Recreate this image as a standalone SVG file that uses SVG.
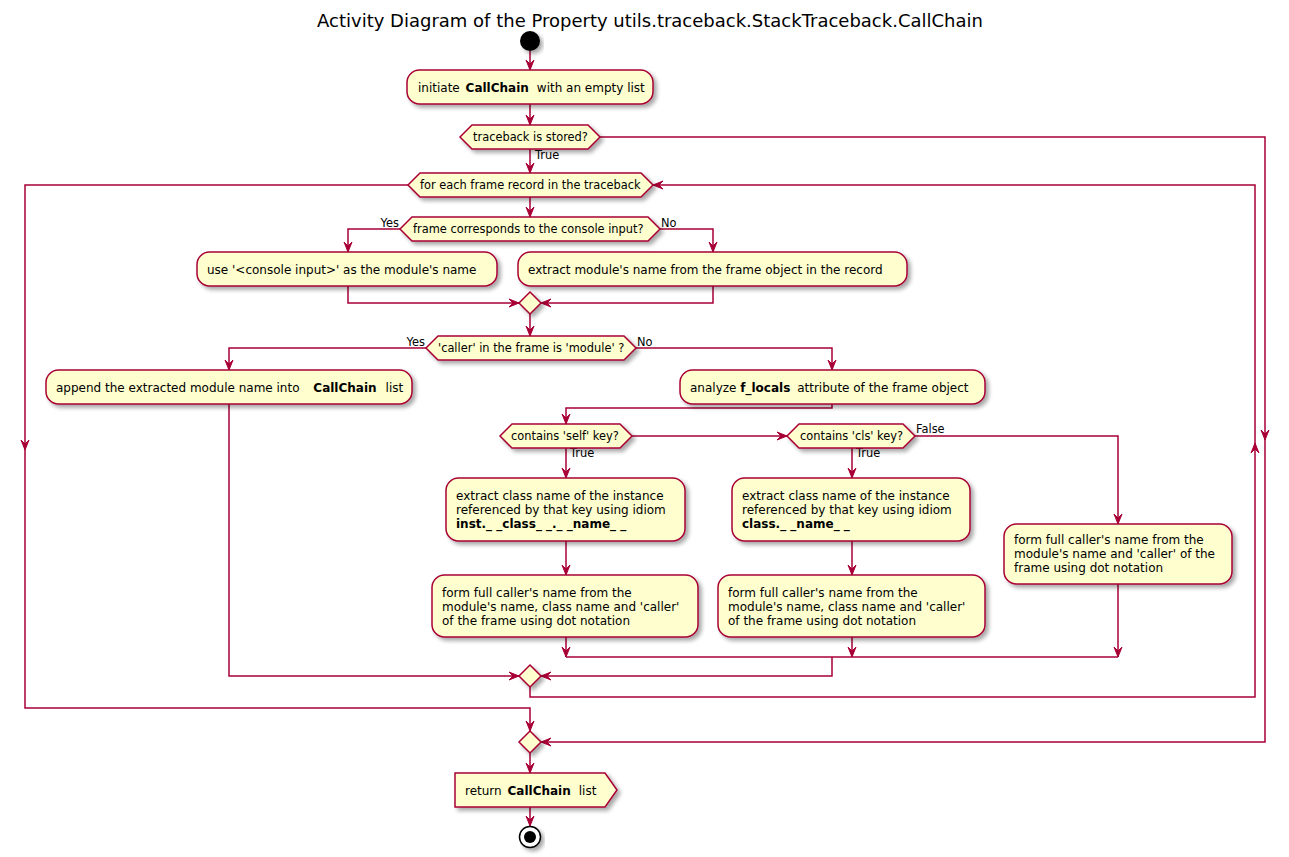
<svg xmlns="http://www.w3.org/2000/svg" width="1289" height="857" viewBox="0 0 1289 857">
<defs>
<filter id="sh" x="-10%" y="-20%" width="130%" height="160%">
<feGaussianBlur in="SourceAlpha" stdDeviation="2"/>
<feOffset dx="3" dy="3" result="b"/>
<feComponentTransfer><feFuncA type="linear" slope="0.35"/></feComponentTransfer>
<feMerge><feMergeNode/><feMergeNode in="SourceGraphic"/></feMerge>
</filter>
<marker id="ah" markerUnits="userSpaceOnUse" markerWidth="12" markerHeight="10" refX="10" refY="4" orient="auto" overflow="visible">
<path d="M0,0 L10,4 L0,8 L4,4 Z" fill="#A80036" stroke="#A80036" stroke-width="1"/>
</marker>
</defs>
<style>
.box{fill:#FEFECE;stroke:#A80036;stroke-width:1.5;filter:url(#sh)}
.t{font-family:"DejaVu Sans",sans-serif;font-size:12px;fill:#000}
.s{font-family:"DejaVu Sans",sans-serif;font-size:11.4px;fill:#000}
.b{font-weight:bold}
.c{fill:none;stroke:#A80036;stroke-width:1.5}
.a{marker-end:url(#ah)}
</style>
<rect width="1289" height="857" fill="#FFFFFF"/>
<text x="650" y="27" text-anchor="middle" font-family="DejaVu Sans, sans-serif" font-size="18">Activity Diagram of the Property utils.traceback.StackTraceback.CallChain</text>

<g id="connectors">
<path class="c a" d="M530,51 L530,70"/>
<path class="c a" d="M530,104 L530,125"/>
<path class="c a" d="M600,137 L1265,137 L1265,440"/>
<path class="c a" d="M1265,440 L1265,742 L541,742"/>
<path class="c a" d="M530,149 L530,173"/>
<path class="c a" d="M408,185 L25,185 L25,450"/>
<path class="c a" d="M25,450 L25,708 L530,708 L530,731"/>
<path class="c a" d="M530,197 L530,217"/>
<path class="c a" d="M400,229 L348,229 L348,252"/>
<path class="c a" d="M660,229 L713,229 L713,252"/>
<path class="c a" d="M348,286 L348,303 L519,303"/>
<path class="c a" d="M713,286 L713,303 L541,303"/>
<path class="c a" d="M530,314 L530,336"/>
<path class="c a" d="M426,348 L229,348 L229,370"/>
<path class="c a" d="M636,348 L832,348 L832,370"/>
<path class="c a" d="M832,404 L832,408 L566,408 L566,424"/>
<path class="c a" d="M632,436 L787,436"/>
<path class="c a" d="M566,447 L566,478"/>
<path class="c a" d="M566,541 L566,575"/>
<path class="c a" d="M566,637 L566,657"/>
<path class="c a" d="M852,447 L852,478"/>
<path class="c a" d="M852,541 L852,575"/>
<path class="c a" d="M852,637 L852,657"/>
<path class="c a" d="M915,436 L1118,436 L1118,524"/>
<path class="c a" d="M1118,584 L1118,657"/>
<path class="c" d="M566,657 L1118,657"/>
<path class="c a" d="M832,657 L832,676 L541,676"/>
<path class="c a" d="M229,404 L229,676 L519,676"/>
<path class="c a" d="M530,687 L530,697 L1255,697 L1255,443"/>
<path class="c a" d="M1255,443 L1255,185 L653,185"/>
<path class="c a" d="M530,753 L530,773"/>
<path class="c a" d="M530,807 L530,826"/>
<text class="s" x="535" y="159">True</text>
<text class="s" x="399" y="227" text-anchor="end">Yes</text>
<text class="s" x="661" y="227">No</text>
<text class="s" x="425" y="346" text-anchor="end">Yes</text>
<text class="s" x="637" y="346">No</text>
<text class="s" x="570" y="457">True</text>
<text class="s" x="856" y="457">True</text>
<text class="s" x="916" y="433">False</text>
</g>

<g id="start"><circle cx="530" cy="41" r="10" fill="#000" filter="url(#sh)"/></g>

<g id="init">
<rect class="box" x="407" y="70" width="246" height="34" rx="12.5"/>
<text class="t" x="418" y="92">initiate <tspan class="b" dx="2">CallChain</tspan><tspan dx="8">with an empty list</tspan></text>
</g>

<g id="d_stored">
<polygon class="box" points="472,125 588,125 600,137 588,149 472,149 460,137"/>
<text class="s" x="473" y="141">traceback is stored?</text>
</g>

<g id="loop">
<polygon class="box" points="420,173 641,173 653,185 641,197 420,197 408,185"/>
<text class="s" x="420" y="189">for each frame record in the traceback</text>
</g>

<g id="d_console">
<polygon class="box" points="412,217 648,217 660,229 648,241 412,241 400,229"/>
<text class="s" x="413" y="233">frame corresponds to the console input?</text>
</g>

<g id="console_name">
<rect class="box" x="197" y="252" width="300" height="34" rx="12.5"/>
<text class="t" x="207" y="274">use '&lt;console input&gt;' as the module's name</text>
</g>

<g id="extract_module">
<rect class="box" x="518" y="252" width="389" height="34" rx="12.5"/>
<text class="t" x="528" y="274">extract module's name from the frame object in the record</text>
</g>

<g id="merge1"><polygon class="box" points="530,292 541,303 530,314 519,303"/></g>

<g id="d_module">
<polygon class="box" points="438,336 624,336 636,348 624,360 438,360 426,348"/>
<text class="s" x="438" y="352">'caller' in the frame is 'module' ?</text>
</g>

<g id="append">
<rect class="box" x="46" y="370" width="366" height="34" rx="12.5"/>
<text class="t" x="56" y="392">append the extracted module name into <tspan class="b" dx="10">CallChain</tspan><tspan dx="9">list</tspan></text>
</g>

<g id="analyze">
<rect class="box" x="680" y="370" width="305" height="34" rx="12.5"/>
<text class="t" x="690" y="392">analyze <tspan class="b">f_locals</tspan> <tspan dx="3">attribute of the frame object</tspan></text>
</g>

<g id="d_self">
<polygon class="box" points="512,424 620,424 632,436 620,448 512,448 500,436"/>
<text class="s" x="511" y="440">contains 'self' key?</text>
</g>

<g id="d_cls">
<polygon class="box" points="799,424 903,424 915,436 903,448 799,448 787,436"/>
<text class="s" x="800" y="440">contains 'cls' key?</text>
</g>

<g id="self_class">
<rect class="box" x="446" y="478" width="239" height="63" rx="12.5"/>
<text class="t" x="456" y="500">extract class name of the instance</text>
<text class="t" x="456" y="514">referenced by that key using idiom</text>
<text class="t b" x="456" y="528">inst._ _class_ _._ _name_ _</text>
</g>

<g id="self_form">
<rect class="box" x="432" y="575" width="266" height="62" rx="12.5"/>
<text class="t" x="442" y="597">form full caller's name from the</text>
<text class="t" x="442" y="611">module's name, class name and 'caller'</text>
<text class="t" x="442" y="625">of the frame using dot notation</text>
</g>

<g id="cls_class">
<rect class="box" x="732" y="478" width="238" height="63" rx="12.5"/>
<text class="t" x="742" y="500">extract class name of the instance</text>
<text class="t" x="742" y="514">referenced by that key using idiom</text>
<text class="t b" x="742" y="528">class._ _name_ _</text>
</g>

<g id="cls_form">
<rect class="box" x="718" y="575" width="267" height="62" rx="12.5"/>
<text class="t" x="728" y="597">form full caller's name from the</text>
<text class="t" x="728" y="611">module's name, class name and 'caller'</text>
<text class="t" x="728" y="625">of the frame using dot notation</text>
</g>

<g id="plain_form">
<rect class="box" x="1004" y="524" width="228" height="60" rx="12.5"/>
<text class="t" x="1014" y="544">form full caller's name from the</text>
<text class="t" x="1014" y="558">module's name and 'caller' of the</text>
<text class="t" x="1014" y="572">frame using dot notation</text>
</g>

<g id="merge2"><polygon class="box" points="530,665 541,676 530,687 519,676"/></g>
<g id="merge3"><polygon class="box" points="530,731 541,742 530,753 519,742"/></g>

<g id="return">
<polygon class="box" points="455,773 605,773 617,790 605,807 455,807"/>
<text class="t" x="465" y="795">return <tspan class="b" dx="2">CallChain</tspan><tspan dx="8">list</tspan></text>
</g>

<g id="end">
<circle cx="530" cy="837" r="10.5" fill="#FFFFFF" stroke="#000" stroke-width="1.5" filter="url(#sh)"/>
<circle cx="530" cy="837" r="6" fill="#000"/>
</g>
</svg>
